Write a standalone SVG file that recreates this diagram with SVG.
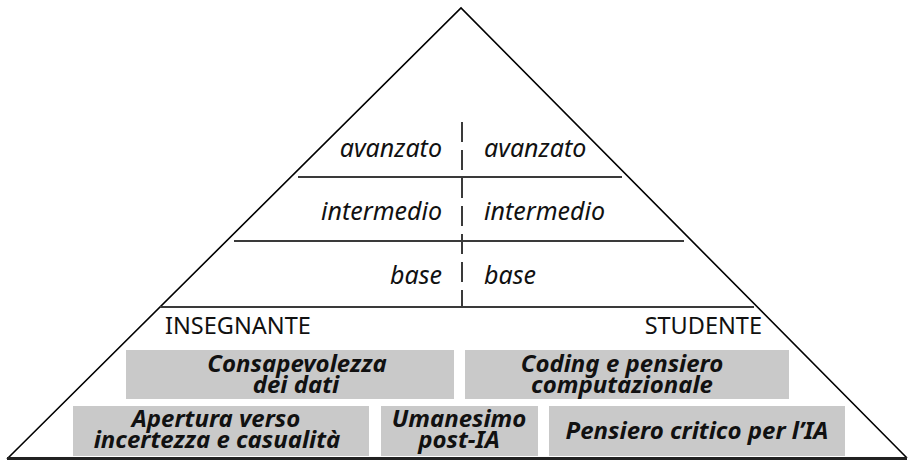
<svg xmlns="http://www.w3.org/2000/svg" width="909" height="463" viewBox="0 0 909 463">
<style>
.tri{fill:none;stroke:#000;stroke-width:1.6;stroke-linejoin:miter}
.base{stroke:#222;stroke-width:3}
.hl{stroke:#3a3a3a;stroke-width:2}
.dash{stroke:#3a3a3a;stroke-width:2;stroke-dasharray:20 8}
.lvl{font-family:"Noto Sans",sans-serif;font-style:italic;font-size:25px;fill:#111}
.role{font-family:"Noto Sans",sans-serif;font-size:23.5px;fill:#111}
.box{fill:#c9c9c9}
.bt{font-family:"Noto Sans",sans-serif;font-style:italic;font-weight:bold;font-size:24px;fill:#111;text-anchor:middle}
</style>
<rect width="909" height="463" fill="#fff"/>
<g id="connectors">
<path class="tri" d="M7,459 L461,8 L907,458"/>
<line class="base" x1="7" y1="458.5" x2="907" y2="458.5"/>
<line class="hl" x1="298" y1="177" x2="622" y2="177"/>
<line class="hl" x1="234" y1="241" x2="684" y2="241"/>
<line class="hl" x1="160" y1="307" x2="754" y2="307"/>
<line class="dash" x1="462" y1="122" x2="462" y2="307"/>
</g>
<g id="levels">
<text class="lvl" x="442" y="157" text-anchor="end">avanzato</text>
<text class="lvl" x="484" y="157">avanzato</text>
<text class="lvl" x="442" y="220" text-anchor="end">intermedio</text>
<text class="lvl" x="484" y="220">intermedio</text>
<text class="lvl" x="442" y="284" text-anchor="end">base</text>
<text class="lvl" x="484" y="284">base</text>
</g>
<g id="roles">
<text class="role" x="165" y="334">INSEGNANTE</text>
<text class="role" x="762" y="334" text-anchor="end">STUDENTE</text>
</g>
<g id="node-consapevolezza">
<rect class="box" x="126" y="350" width="328" height="49"/>
<text class="bt" x="297" y="372">Consapevolezza</text>
<text class="bt" x="296" y="393">dei dati</text>
</g>
<g id="node-coding">
<rect class="box" x="465" y="350" width="324" height="49"/>
<text class="bt" x="622" y="372">Coding e pensiero</text>
<text class="bt" x="622" y="393">computazionale</text>
</g>
<g id="node-apertura">
<rect class="box" x="73" y="406" width="296" height="50"/>
<text class="bt" x="216" y="427">Apertura verso</text>
<text class="bt" x="217" y="448">incertezza e casualità</text>
</g>
<g id="node-umanesimo">
<rect class="box" x="381" y="406" width="157" height="50"/>
<text class="bt" x="459" y="427">Umanesimo</text>
<text class="bt" x="459" y="448">post-IA</text>
</g>
<g id="node-pensiero">
<rect class="box" x="549" y="406" width="296" height="50"/>
<text class="bt" x="697" y="439">Pensiero critico per l’IA</text>
</g>
</svg>
